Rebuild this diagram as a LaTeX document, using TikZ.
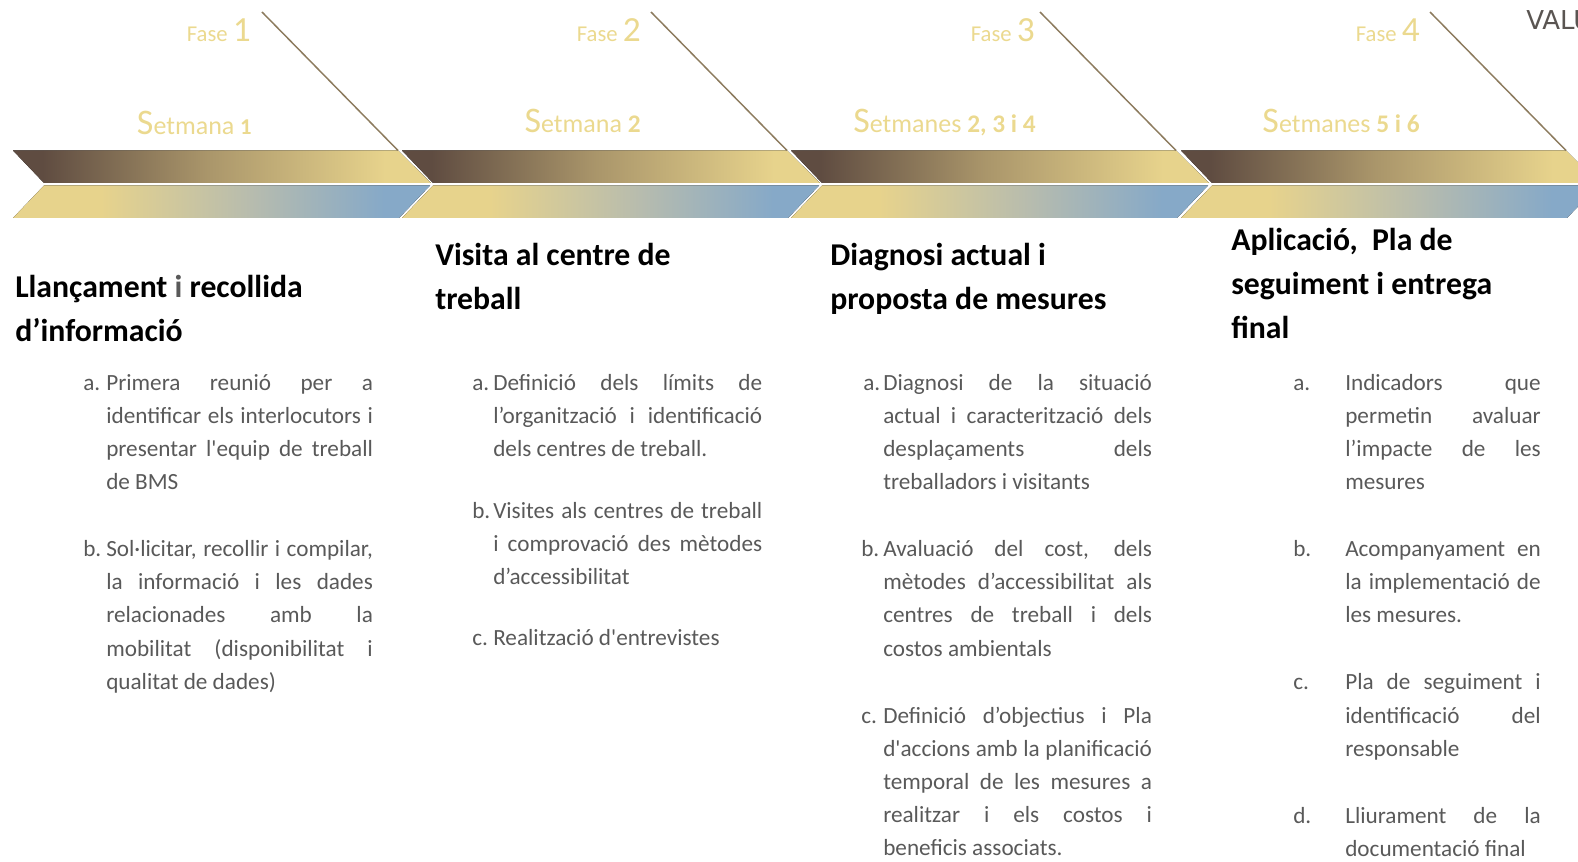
\documentclass[tikz,border=0pt]{standalone}
\usepackage{fontspec}
\setmainfont{Carlito}[Ligatures=TeXOff]
\newfontfamily\logofont{DejaVu Sans}
\usetikzlibrary{positioning}
\definecolor{daurat}{HTML}{EBD98F}
\definecolor{linia}{HTML}{8C7B5E}
\definecolor{cos}{HTML}{595959}
\definecolor{logogris}{HTML}{5A5552}
\sloppy
\pgfdeclarehorizontalshading{degrabrons}{100bp}{rgb(0bp)=(.373,.298,.255); rgb(28.5bp)=(.373,.298,.255); rgb(48bp)=(.663,.584,.416); rgb(69.5bp)=(.906,.827,.549); rgb(100bp)=(.906,.827,.549)}
\pgfdeclarehorizontalshading{degrablau}{100bp}{rgb(0bp)=(.906,.827,.549); rgb(35.5bp)=(.906,.827,.549); rgb(53.5bp)=(.718,.737,.682); rgb(69.5bp)=(.525,.663,.784); rgb(100bp)=(.525,.663,.784)}
\newcommand{\gran}[1]{{\fontsize{26.5}{26.5}\selectfont #1}}
\newcommand{\ess}{{\fontsize{27}{27}\selectfont S}}
\newcommand{\num}[1]{{\fontsize{19}{19}\selectfont\bfseries #1}}
\tikzset{node distance=24.9pt, inner sep=0pt,
    fase/.style={anchor=base east, text=daurat, font=\fontsize{17}{20}\selectfont},
    setmana/.style={anchor=base east, text=daurat, font=\fontsize{19.5}{24}\selectfont},
    titol/.style={anchor=north west, align=left, font=\fontsize{23.8}{33}\selectfont\bfseries, execute at begin node=\strut},
    apartat/.style={text=cos, align=justify, font=\fontsize{17.4}{24.9}\selectfont, execute at begin node=\strut, execute at end node=\strut},
    lletra/.style={anchor=north west, text=cos, font=\fontsize{17.4}{24.9}\selectfont, execute at begin node=\strut},
    barra alta/.style={shading=degrabrons},
    barra baixa/.style={shading=degrablau},
    diagonal/.style={draw=linia, line width=1.1pt}}

\begin{document}
\begin{tikzpicture}[x=0.75pt, y=-0.75pt]
    \clip (0,0) rectangle (1578,862);
    % barres
    \fill[barra alta] (13,150.5) -- (398,150.5) -- (431,183) -- (44,183) -- cycle;
    \fill[barra baixa] (44,185.5) -- (430,185.5) -- (399,218) -- (13,218) -- cycle;
    \fill[barra alta] (402,150.5) -- (787,150.5) -- (820,183) -- (433,183) -- cycle;
    \fill[barra baixa] (433,185.5) -- (819,185.5) -- (788,218) -- (402,218) -- cycle;
    \fill[barra alta] (791,150.5) -- (1176,150.5) -- (1209,183) -- (822,183) -- cycle;
    \fill[barra baixa] (822,185.5) -- (1208,185.5) -- (1177,218) -- (791,218) -- cycle;
    \fill[barra alta] (1181,150.5) -- (1566,150.5) -- (1599,183) -- (1212,183) -- cycle;
    \fill[barra baixa] (1212,185.5) -- (1598,185.5) -- (1567,218) -- (1181,218) -- cycle;

    \coordinate (inici1) at (262,12);
    \coordinate (final1) at (398,150.5);
    \coordinate (inici2) at (651,12);
    \coordinate (final2) at (787,150.5);
    \coordinate (inici3) at (1040,12);
    \coordinate (final3) at (1176,150.5);
    \coordinate (inici4) at (1430,12);
    \coordinate (final4) at (1566,150.5);
    \draw[diagonal] (inici1) -- (final1);
    \draw[diagonal] (inici2) -- (final2);
    \draw[diagonal] (inici3) -- (final3);
    \draw[diagonal] (inici4) -- (final4);

    \node[anchor=base west, text=logogris, font=\logofont\fontsize{19.5}{20}\selectfont] (logo) at (1526,30) {VALU};

    \node[fase] (fase1) at (251,42) {Fase \gran{1}};
    \node[fase] (fase2) at (641,42) {Fase \gran{2}};
    \node[fase] (fase3) at (1035,42) {Fase \gran{3}};
    \node[fase] (fase4) at (1420,42) {Fase \gran{4}};
    \node[setmana] (setmana1) at (252,135) {\ess etmana {\fontsize{17}{17}\selectfont\bfseries 1}};
    \node[setmana] (setmana2) at (641,132.5) {\ess etmana \num{2}};
    \node[setmana] (setmana3) at (1036,132.5) {\ess etmanes \num{2, 3 i 4}};
    \node[setmana] (setmana4) at (1420,132.5) {\ess etmanes \num{5 i 6}};

    \node[titol] (titol1) at (15,275) {Llançament {\color{cos}i} recollida\\d’informació};
    \node[titol] (titol2) at (435,243) {Visita al centre de\\treball};
    \node[titol] (titol3) at (830,243) {Diagnosi actual i\\proposta de mesures};
    \node[titol] (titol4) at (1231,228) {Aplicació,\ \ Pla de\\seguiment i entrega\\final};

    % fase 1
    \node[apartat, text width=200pt, anchor=north west] (a1) at (106,366.5) {Primera reunió per a\linebreak identificar els interlocutors i\linebreak presentar l'equip de treball\linebreak de BMS};
    \node[apartat, text width=200pt, below=of a1] (b1) {Sol·licitar, recollir i compilar,\linebreak la informació i les dades\linebreak relacionades amb la\linebreak mobilitat (disponibilitat i\linebreak qualitat de dades)};
    \node[lletra] (la1) at (83,366.5) {a.};
    \node[lletra] (lb1) at (la1.north west |- b1.north west) {b.};

    % fase 2
    \node[apartat, text width=201.75pt, anchor=north west] (a2) at (493,366.5) {Definició dels límits de\linebreak l’organització i identificació\linebreak dels centres de treball.};
    \node[apartat, text width=201.75pt, below=21pt of a2] (b2) {Visites als centres de treball\linebreak i comprovació des mètodes\linebreak d’accessibilitat};
    \node[apartat, text width=201.75pt, below=20.5pt of b2] (c2) {Realització d'entrevistes};
    \node[lletra] (la2) at (472,366.5) {a.};
    \node[lletra] (lb2) at (la2.north west |- b2.north west) {b.};
    \node[lletra] (lc2) at (la2.north west |- c2.north west) {c.};

    % fase 3
    \node[apartat, text width=201.5pt, anchor=north west] (a3) at (883,366.5) {Diagnosi de la situació\linebreak actual i caracterització dels\linebreak desplaçaments dels\linebreak treballadors i visitants};
    \node[apartat, text width=201.5pt, below=of a3] (b3) {Avaluació del cost, dels\linebreak mètodes d’accessibilitat als\linebreak centres de treball i dels\linebreak costos ambientals};
    \node[apartat, text width=201.5pt, below=of b3] (c3) {Definició d’objectius i Pla\linebreak d'accions amb la planificació\linebreak temporal de les mesures a\linebreak realitzar i els costos i\linebreak beneficis associats.};
    \node[lletra] (la3) at (863,366.5) {a.};
    \node[lletra, xshift=-1.5pt] (lb3) at (la3.north west |- b3.north west) {b.};
    \node[lletra, xshift=-1.5pt] (lc3) at (la3.north west |- c3.north west) {c.};

    % fase 4
    \node[apartat, text width=146.6pt, anchor=north west] (a4) at (1345,366.5) {Indicadors que\linebreak permetin avaluar\linebreak l’impacte de les\linebreak mesures};
    \node[apartat, text width=146.6pt, below=of a4] (b4) {Acompanyament en\linebreak la implementació de\linebreak les mesures.};
    \node[apartat, text width=146.6pt, below=of b4] (c4) {Pla de seguiment i\linebreak identificació del\linebreak responsable};
    \node[apartat, text width=146.6pt, below=of c4] (d4) {Lliurament de la\linebreak documentació final};
    \node[lletra] (la4) at (1293,366.5) {a.};
    \node[lletra] (lb4) at (la4.north west |- b4.north west) {b.};
    \node[lletra] (lc4) at (la4.north west |- c4.north west) {c.};
    \node[lletra] (ld4) at (la4.north west |- d4.north west) {d.};
\end{tikzpicture}
\end{document}
